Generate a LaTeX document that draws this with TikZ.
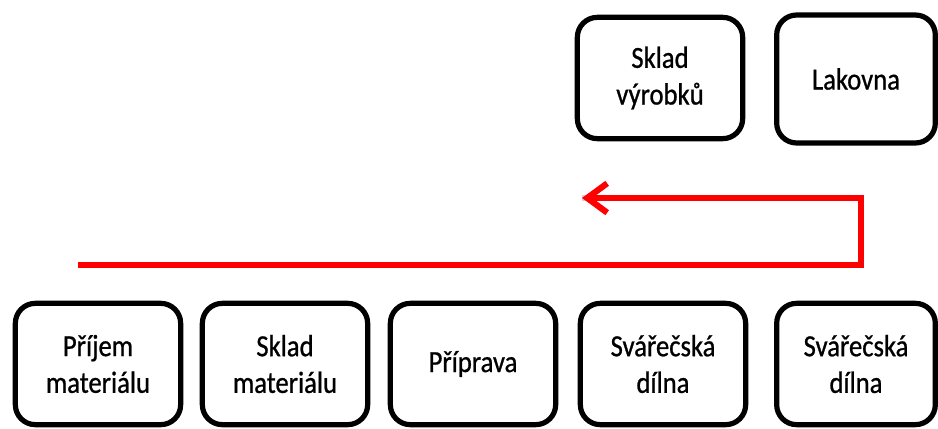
\documentclass[tikz,border=0pt]{standalone}
\usepackage{fontspec}
\setmainfont{Carlito}[FakeStretch=0.87,FakeBold=0.8]
\usetikzlibrary{arrows.meta}
\begin{document}
\begin{tikzpicture}[x=0.75pt,y=-0.75pt,
  station/.style={draw=black,line width=3.9pt,rounded corners=15pt,
    minimum width=124pt,minimum height=91pt,inner sep=0pt,align=center,
    font=\fontsize{23pt}{27.5pt}\selectfont},
  flow/.style={draw=red,line width=4.6pt,line join=miter},
  flowshadow/.style={draw=black!18,line width=4.6pt,line join=miter}]
\useasboundingbox[fill=white] (0,0) rectangle (938,428);

% upper row
\node[station] (vyrobky) at (660,78) {Sklad\\výrobků};
\node[station,minimum width=119pt,minimum height=96pt] (lakovna) at (856,79) {Lakovna};

% lower row
\node[station] (prijem)  at (98,364)  {Příjem\\materiálu};
\node[station] (sklad)   at (285,364) {Sklad\\materiálu};
\node[station] (priprava) at (473,364) {Příprava};
\node[station] (svar1)   at (663,364) {Svářečská\\dílna};
\node[station,minimum width=119pt] (svar2) at (856,364) {Svářečská\\dílna};

% material flow route
\coordinate (f0) at (78,265);
\coordinate (f1) at (861,265);
\coordinate (f2) at (861,198);
\coordinate (f3) at (582,198);
\draw[flowshadow,shift={(1.5,2.5)}] (f0) -- (f1) -- (f2) -- (f3);
\draw[flow,-{Straight Barb[length=15pt,width=22pt]}] (f0) -- (f1) -- (f2) -- (f3);
\end{tikzpicture}
\end{document}
